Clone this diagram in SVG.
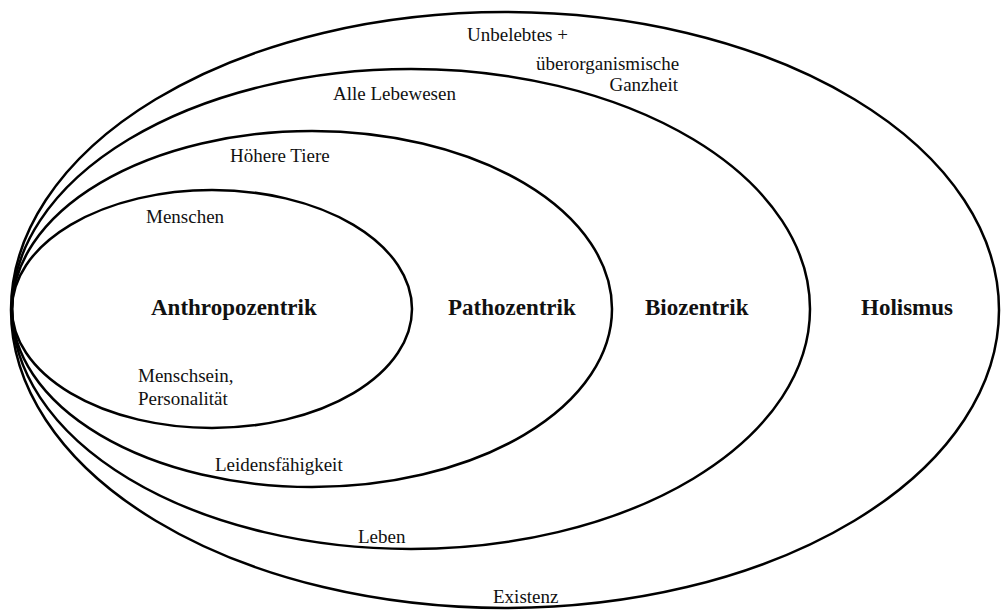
<svg xmlns="http://www.w3.org/2000/svg" width="1001" height="610" viewBox="0 0 1001 610">
<style>
.e{fill:none;stroke:#000;stroke-width:2.5}
.t{font-family:"Liberation Serif","Times New Roman",serif;font-size:19px;fill:#111}
.b{font-family:"Liberation Serif","Times New Roman",serif;font-size:23px;font-weight:bold;fill:#111}
</style>
<rect width="1001" height="610" fill="#fff"/>
<g id="holismus">
<ellipse class="e" cx="505" cy="310" rx="494" ry="298"/>
<text class="b" x="861" y="315">Holismus</text>
<text class="t" x="467" y="41">Unbelebtes +</text>
<text class="t" x="536" y="70">überorganismische</text>
<text class="t" x="678" y="91" text-anchor="end">Ganzheit</text>
<text class="t" x="493" y="603">Existenz</text>
</g>
<g id="biozentrik">
<ellipse class="e" cx="411" cy="309" rx="399" ry="240"/>
<text class="b" x="645" y="315">Biozentrik</text>
<text class="t" x="333" y="100">Alle Lebewesen</text>
<text class="t" x="358" y="543">Leben</text>
</g>
<g id="pathozentrik">
<ellipse class="e" cx="312" cy="309" rx="300" ry="178"/>
<text class="b" x="448" y="315">Pathozentrik</text>
<text class="t" x="230" y="162">Höhere Tiere</text>
<text class="t" x="215" y="471">Leidensfähigkeit</text>
</g>
<g id="anthropozentrik">
<ellipse class="e" cx="212" cy="309" rx="200" ry="119"/>
<text class="b" x="151" y="315">Anthropozentrik</text>
<text class="t" x="146" y="223">Menschen</text>
<text class="t" x="138" y="382">Menschsein,</text>
<text class="t" x="138" y="405">Personalität</text>
</g>
<g id="connectors"/>
</svg>
